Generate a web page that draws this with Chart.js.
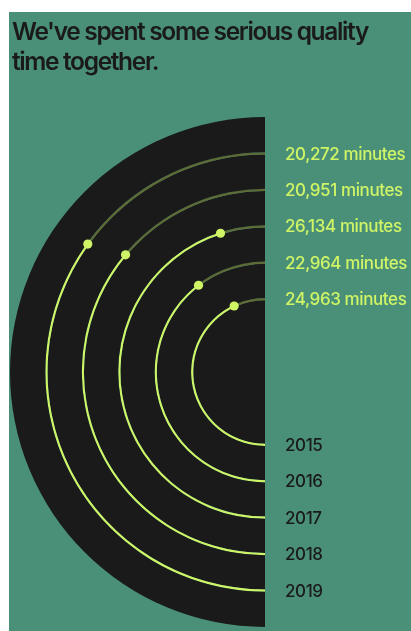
<!DOCTYPE html>
<html><head><meta charset="utf-8">
<script src="https://cdn.jsdelivr.net/npm/chart.js@4"></script>
<style>
html,body{margin:0;padding:0;background:#fff;width:411px;height:631px;overflow:hidden}
#panel{position:absolute;left:9px;top:12px;width:402px;height:619px;background:#4a9079}
#title{position:absolute;left:3px;top:4px;margin:0;font-family:Inter,sans-serif;font-weight:600;font-size:24.5px;line-height:30px;color:#1a1a1a;letter-spacing:-1.35px;white-space:nowrap}
#wrap{position:absolute;left:0;top:0;width:402px;height:619px}
</style></head><body>
<div id="panel"><div id="wrap"><canvas id="c"></canvas></div><h1 id="title">We've spent some serious quality<br>time together.</h1></div>
<script>
const years = ['2015', '2016', '2017', '2018', '2019'];
const minutes = [24963, 22964, 26134, 20951, 20272];
const fullArcMinutes = 29000;

const LIME = '#cff566';
const OLIVE = '#5f6b35';
const DISC = '#1a1a1a';
const INK = '#1a1a1a';
const LINE = 0.06; // ring line thickness relative to ring spacing

// outermost ring first (2019 ... 2015), separated by black bands
const datasets = [];
const order = years.map((y, i) => i).reverse();
datasets.push({ data: [1], backgroundColor: DISC, weight: 1 - LINE / 2 });
order.forEach((idx, k) => {
  datasets.push({
    data: [minutes[idx], fullArcMinutes - minutes[idx]],
    backgroundColor: [LIME, OLIVE],
    weight: LINE,
    year: years[idx],
    minutesLabel: minutes[idx].toLocaleString('en-US') + ' minutes'
  });
  const last = k === order.length - 1;
  datasets.push({ data: [1], backgroundColor: DISC, weight: last ? 2 - LINE / 2 : 1 - LINE });
});

const ringMarks = {
  id: 'ringMarks',
  afterDatasetsDraw(chart) {
    const ctx = chart.ctx;
    chart.data.datasets.forEach((ds, i) => {
      if (!ds.year) return;
      const arc = chart.getDatasetMeta(i).data[0];
      const { x, y, endAngle, innerRadius, outerRadius } = arc.getProps(['x', 'y', 'endAngle', 'innerRadius', 'outerRadius']);
      const r = (innerRadius + outerRadius) / 2;
      ctx.save();
      ctx.fillStyle = LIME;
      ctx.beginPath();
      ctx.arc(x + Math.cos(endAngle) * r, y + Math.sin(endAngle) * r, 4.6, 0, Math.PI * 2);
      ctx.fill();
      ctx.font = '500 17px Inter, sans-serif';
      ctx.letterSpacing = '-0.4px';
      ctx.textBaseline = 'middle';
      ctx.textAlign = 'left';
      ctx.fillStyle = LIME;
      ctx.fillText(ds.minutesLabel, x + 20, y - r + 1);
      ctx.fillStyle = INK;
      ctx.fillText(ds.year, x + 20, y + r + 1);
      ctx.restore();
    });
  }
};

new Chart(document.getElementById('c'), {
  type: 'doughnut',
  data: { labels: ['listened', 'rest'], datasets },
  options: {
    responsive: true,
    maintainAspectRatio: false,
    animation: false,
    events: [],
    rotation: 180,
    circumference: 180,
    cutout: 0,
    borderWidth: 0,
    hoverOffset: 0,
    layout: { padding: { left: 1, top: 105, right: 146, bottom: 4 } },
    plugins: { legend: { display: false }, tooltip: { enabled: false } }
  },
  plugins: [ringMarks]
});
</script>
</body></html>
